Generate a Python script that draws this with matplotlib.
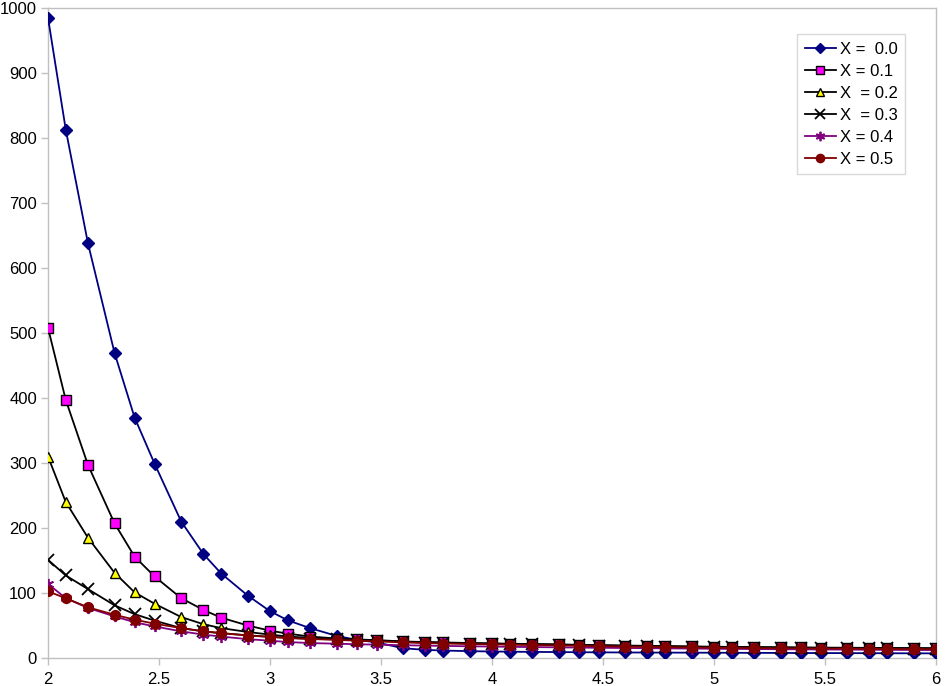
import matplotlib
matplotlib.use("Agg")
import matplotlib.pyplot as plt

plt.rcParams['font.family'] = ['Liberation Sans', 'DejaVu Sans']

x_vals = [2.0, 2.08, 2.18, 2.30, 2.39, 2.48, 2.60, 2.70, 2.78, 2.90,
          3.0, 3.08, 3.18, 3.30, 3.39, 3.48, 3.60, 3.70, 3.78, 3.90,
          4.0, 4.08, 4.18, 4.30, 4.39, 4.48, 4.60, 4.70, 4.78, 4.90,
          5.0, 5.08, 5.18, 5.30, 5.39, 5.48, 5.60, 5.70, 5.78, 5.90, 6.0]

y_x00 = [985, 813, 638, 469, 370, 299, 210, 160, 130, 96,
         72, 58, 46, 34, 28, 24, 15, 12.5, 11.5, 10.5,
         10, 9.7, 9.4, 9.1, 8.9, 8.7, 8.5, 8.4, 8.3, 8.2,
         8.1, 8.0, 7.9, 7.8, 7.7, 7.6, 7.5, 7.4, 7.3, 7.2, 7.1]

y_x01 = [508, 397, 297, 207, 156, 125.5, 92, 74, 62, 50,
         42, 37.5, 33, 30, 28.5, 27.5, 25.5, 24.5, 24, 23,
         22.5, 22, 21.5, 21, 20.3, 19.8, 19.2, 18.7, 18.3, 17.8,
         17.4, 17.1, 16.8, 16.5, 16.2, 16.0, 15.8, 15.6, 15.4, 15.2, 15.0]

y_x02 = [310, 240, 185, 131, 101, 83.5, 63, 52, 46, 40,
         36, 33, 31, 29.5, 28, 27, 25, 24, 23.5, 22.5,
         22, 21.5, 21, 20.4, 19.8, 19.3, 18.7, 18.2, 17.8, 17.3,
         16.9, 16.6, 16.3, 16.0, 15.8, 15.6, 15.4, 15.2, 15.0, 14.8, 14.6]

y_x03 = [151, 127, 106, 81, 67.5, 57.5, 46, 41, 38, 35,
         32.5, 31, 29.5, 28.5, 27.5, 26.5, 24.8, 23.8, 23.2, 22.3,
         21.8, 21.3, 20.8, 20.2, 19.6, 19.1, 18.5, 18.0, 17.6, 17.1,
         16.7, 16.4, 16.1, 15.8, 15.6, 15.4, 15.2, 15.0, 14.8, 14.6, 14.4]

y_x04 = [114, 92, 77, 64, 55, 48.6, 41, 36, 33, 29,
         26.6, 24.6, 23, 22, 21.2, 20.5, 19.7, 19, 18.6, 18,
         17.6, 17.2, 16.8, 16.4, 16, 15.7, 15.4, 15.1, 14.8, 14.5,
         14.2, 14, 13.8, 13.5, 13.3, 13.1, 12.9, 12.7, 12.5, 12.3, 12.2]

y_x05 = [102.5, 92, 78, 66.5, 59, 52.8, 46, 41, 38.5, 34.5,
         32.5, 30.8, 29.2, 28, 26.6, 25.6, 24, 23, 22.3, 21.5,
         21, 20.5, 20, 19.3, 18.8, 18.2, 17.6, 17.1, 16.7, 16.2,
         15.8, 15.5, 15.2, 14.9, 14.7, 14.5, 14.3, 14.1, 13.9, 13.7, 13.5]

labels = ["X =  0.0", "X = 0.1", "X  = 0.2", "X  = 0.3", "X = 0.4", "X = 0.5"]

fig = plt.figure(figsize=(9.46, 6.86), dpi=100)
ax = fig.add_axes([48/946, 28/686, 888/946, 650/686])

ax.plot(x_vals, y_x00, color='#000080', lw=1.3, marker='D', ms=6.5,
        mfc='#000080', mec='#000080', label=labels[0], zorder=3)
ax.plot(x_vals, y_x01, color='black', lw=1.3, marker='s', ms=7,
        mfc='#FF00FF', mec='black', mew=1.0, label=labels[1], zorder=3)
ax.plot(x_vals, y_x02, color='black', lw=1.3, marker='^', ms=7.5,
        mfc='#FFFF00', mec='black', mew=1.0, label=labels[2], zorder=3)
ax.plot(x_vals, y_x03, color='black', lw=1.3, marker='x', ms=8,
        mec='black', mew=1.3, label=labels[3], zorder=3)
ax.plot(x_vals, y_x04, color='#800080', lw=1.3, marker=(6, 2, 0), ms=8,
        mec='#800080', mew=1.3, label=labels[4], zorder=3)
ax.plot(x_vals, y_x05, color='#800000', lw=1.3, marker='o', ms=7,
        mfc='#800000', mec='#800000', label=labels[5], zorder=4)

ax.set_xlim(2, 6)
ax.set_ylim(0, 1000)
ax.set_xticks([2, 2.5, 3, 3.5, 4, 4.5, 5, 5.5, 6])
ax.set_xticklabels(['2', '2.5', '3', '3.5', '4', '4.5', '5', '5.5', '6'])
ax.set_yticks(range(0, 1001, 100))

for s in ax.spines.values():
    s.set_color('#c0c0c0')
    s.set_linewidth(1.0)
ax.tick_params(axis='both', colors='#c0c0c0', labelcolor='black',
               labelsize=12, length=5, width=1, direction='out')
ax.tick_params(axis='x', pad=5)
ax.tick_params(axis='y', pad=3)

leg = ax.legend(loc='upper right', bbox_to_anchor=(0.965, 0.96),
                fontsize=12, frameon=True, fancybox=False,
                edgecolor='#d0d0d0', handlelength=1.9, borderpad=0.45,
                labelspacing=0.42, handletextpad=0.2, borderaxespad=0,
                markerscale=0.85)
leg.get_frame().set_linewidth(1.0)

fig.savefig('out.png', dpi=100)
